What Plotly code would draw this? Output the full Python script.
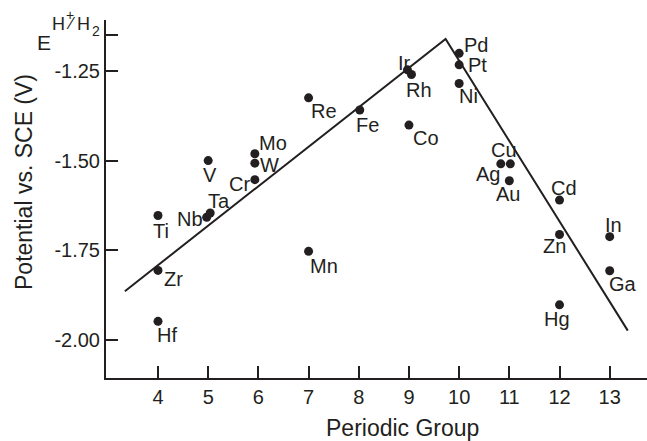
import plotly.graph_objects as go

# ---- data ----
elements = ["Ti", "Zr", "Hf", "V", "Nb", "Ta", "Cr", "Mo", "W", "Mn", "Re", "Fe", "Co",
            "Rh", "Ir", "Ni", "Pd", "Pt", "Cu", "Ag", "Au", "Zn", "Cd", "Hg", "Ga", "In"]
group = [4, 4, 4, 5, 4.97, 5.04, 5.93, 5.93, 5.93, 7, 7, 8.02, 9,
         9.05, 8.97, 10, 10, 10, 11.02, 10.83, 11, 12, 12, 12, 13, 13]
potential = [-1.653, -1.806, -1.948, -1.500, -1.658, -1.646, -1.553, -1.481, -1.507, -1.753,
             -1.325, -1.359, -1.401, -1.260, -1.247, -1.285, -1.201, -1.233, -1.509, -1.509,
             -1.556, -1.706, -1.610, -1.902, -1.807, -1.712]

trend_x = [3.34, 9.73, 13.36]
trend_y = [-1.864, -1.161, -1.974]

x_ticks = [4, 5, 6, 7, 8, 9, 10, 11, 12, 13]
y_ticks = [-2.00, -1.75, -1.50, -1.25, -1.15]
y_ticktext = ["-2.00", "-1.75", "-1.50", "-1.25", " "]

# label offsets in screen pixels (dx right, dy down)
label_offsets = {
    "Ti": (3, 15), "Zr": (15, 9), "Hf": (9, 14), "V": (2, 14), "Nb": (-17, 2),
    "Ta": (9, -12), "Mo": (18, -11), "W": (15, 2), "Cr": (-15, 4), "Mn": (15, 15),
    "Re": (15, 13), "Fe": (8, 15), "Co": (17, 13), "Ir": (-3, -7), "Rh": (8, 15),
    "Pd": (17, -8), "Pt": (18, 0), "Ni": (9, 13), "Cu": (-6, -14), "Ag": (-13, 10),
    "Au": (-1, 13), "Cd": (4, -12), "Zn": (-5, 11), "Hg": (-3, 14), "In": (4, -12),
    "Ga": (13, 13),
}

FONT = "Arial, Liberation Sans, sans-serif"
INK = "#231f20"

L, R, T, B = 106, 0, 20, 63
W, H = 647, 441
pw, ph = W - L - R, H - T - B


def px_ann(text, px, py, size, angle=0):
    """annotation placed by its centre in page pixels"""
    fig.add_annotation(x=(px - L) / pw, y=(H - B - py) / ph, xref="paper", yref="paper",
                       text=text, showarrow=False, textangle=angle,
                       xanchor="center", yanchor="middle",
                       font=dict(family=FONT, size=size, color=INK))


fig = go.Figure()
fig.add_trace(go.Scatter(x=trend_x, y=trend_y, mode="lines",
                         line=dict(color=INK, width=2), hoverinfo="skip", showlegend=False))
fig.add_trace(go.Scatter(x=group, y=potential, mode="markers", text=elements,
                         marker=dict(color=INK, size=9), showlegend=False))

for el, gx, py in zip(elements, group, potential):
    dx, dy = label_offsets[el]
    fig.add_annotation(x=gx, y=py, xref="x", yref="y", text=el, showarrow=False,
                       xshift=dx, yshift=-dy, xanchor="center", yanchor="middle",
                       font=dict(family=FONT, size=20, color=INK))

# E(H+/H2) label beside the top tick
px_ann("E", 43.5, 42, 21)
px_ann("H", 58.5, 24, 18)
px_ann("+", 69.5, 15, 14)
px_ann("⁄", 71, 24, 17)
px_ann("H", 83.5, 24, 18)
px_ann("2", 96, 31, 14)

# axis titles
px_ann("Periodic Group", 402, 428, 23)
px_ann("Potential vs. SCE (V)", 24, 182, 23, angle=-90)

fig.update_layout(
    width=W, height=H,
    margin=dict(l=L, r=R, t=T, b=B),
    paper_bgcolor="white", plot_bgcolor="white",
    font=dict(family=FONT, size=20, color=INK),
    xaxis=dict(range=[2.964, 13.743], tickvals=x_ticks, ticks="inside", ticklen=12,
               tickwidth=1.5, tickcolor=INK, showline=True, linecolor=INK, linewidth=2,
               showgrid=False, zeroline=False, tickfont=dict(size=20)),
    yaxis=dict(range=[-2.106, -1.108], tickvals=y_ticks, ticktext=y_ticktext,
               ticks="inside", ticklen=12, tickwidth=1.5, tickcolor=INK, showline=True,
               linecolor=INK, linewidth=2, showgrid=False, zeroline=False,
               tickfont=dict(size=20)),
)

fig.write_html("out.html")
